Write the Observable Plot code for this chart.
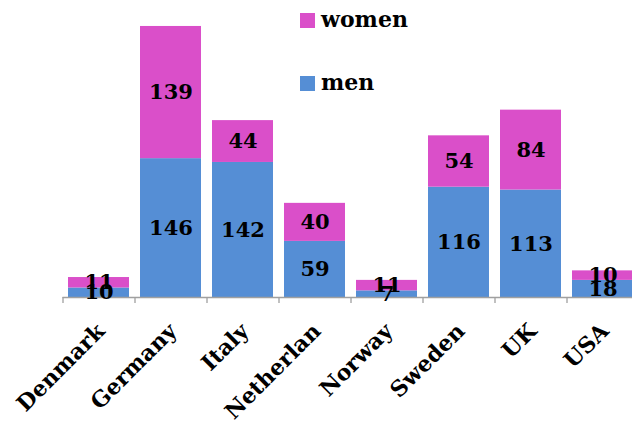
<!DOCTYPE html>
<html>
<head>
<meta charset="utf-8">
<script src="https://cdn.jsdelivr.net/npm/d3@7"></script>
<script src="https://cdn.jsdelivr.net/npm/@observablehq/plot@0.6"></script>
<style>
  html, body { margin: 0; padding: 0; background: #fff; }
  #wrap { position: relative; width: 632px; height: 423px; overflow: hidden; font-family: "DejaVu Serif", serif; font-weight: bold; }
  #legend { position: absolute; left: 300px; top: 0; }
  .item { position: absolute; left: 0; white-space: nowrap; font-size: 22px; color: #000; }
  .sw { position: absolute; left: 0; width: 15px; height: 15px; }
  .lab { position: absolute; left: 21px; line-height: 22px; }
</style>
</head>
<body>
<div id="wrap">
  <div id="chart"></div>
  <div id="legend"></div>
</div>
<script>
const categories = ["Denmark", "Germany", "Italy", "Netherlan", "Norway", "Sweden", "UK", "USA"];
const series = ["men", "women"];
const men = [10, 146, 142, 59, 7, 116, 113, 18];
const women = [11, 139, 44, 40, 11, 54, 84, 10];
const colors = ["#558ED5", "#DA4FC9"];

const data = [];
series.forEach((s, si) => {
  const vals = si === 0 ? men : women;
  categories.forEach((c, i) => data.push({country: c, series: s, value: vals[i]}));
});

const font = "DejaVu Serif";
const chart = Plot.plot({
  width: 632,
  height: 423,
  marginTop: 11.7,
  marginBottom: 126,
  marginLeft: 62.5,
  marginRight: 0,
  style: {fontFamily: font, fontWeight: "bold", background: "#fff"},
  x: {domain: categories, range: [62.5, 638.5], paddingInner: 0.146, paddingOuter: 0.073, label: null},
  y: {domain: [0, 300], axis: null},
  color: {domain: series, range: colors},
  marks: [
    Plot.barY(data, Plot.stackY({x: "country", y: "value", fill: "series", order: null})),
    Plot.ruleY([0], {stroke: "#a0a0a0", strokeWidth: 1.3}),
    Plot.ruleX(categories, {x: d => d, y1: 0, y2: 0, dx: -36, insetBottom: -6, stroke: "#a0a0a0", strokeWidth: 1.3}),
    Plot.text(data, Plot.stackY({x: "country", y: "value", z: "series", text: d => String(d.value), order: null, fill: "#000", fontSize: 21, fontWeight: "bold"})),
    Plot.axisX({tickSize: 0, tickRotate: -45, tickPadding: 30, dx: 2, fontSize: 22, fontWeight: "bold", fill: "#000", label: null})
  ]
});
document.getElementById("chart").appendChild(chart);

const legend = document.getElementById("legend");
const legendItems = [["women", 1, 13], ["men", 0, 76]];
legendItems.forEach(([name, ci, top]) => {
  const item = document.createElement("div");
  item.className = "item";
  item.style.top = top + "px";
  item.innerHTML = `<div class="sw" style="background:${colors[ci]}"></div><div class="lab" style="top:-5px">${name}</div>`;
  legend.appendChild(item);
});
</script>
</body>
</html>
